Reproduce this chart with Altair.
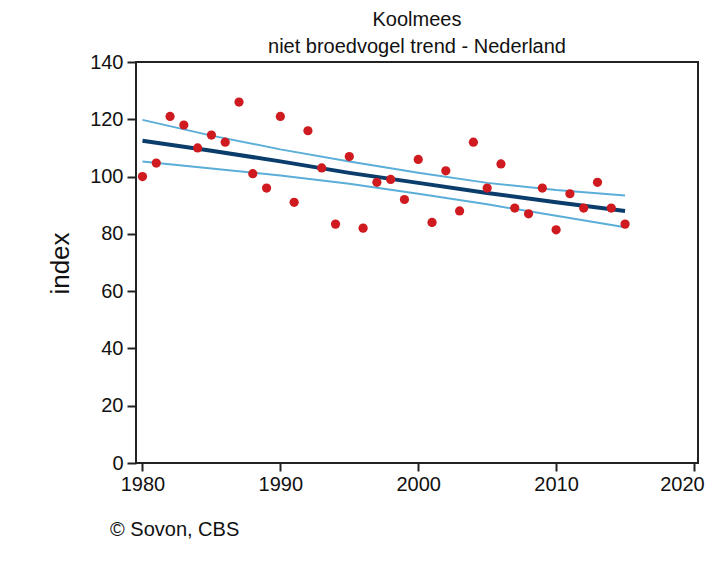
import altair as alt
import pandas as pd

# Observed index values (Koolmees, niet broedvogel)
years = list(range(1980, 2016))
index_values = [100, 104.7, 121, 118, 110, 114.5, 112, 126, 101, 96,
                121, 91, 116, 103, 83.4, 107, 82, 98, 99, 92,
                106, 84, 102, 88, 112, 96, 104.4, 89, 87, 96,
                81.4, 94, 89, 98, 89, 83.4]

# Trend line and confidence band (read at 5-year steps)
trend_years = [1980, 1985, 1990, 1995, 2000, 2005, 2010, 2015]
trend_mid = [112.5, 109.0, 105.3, 101.3, 97.8, 94.3, 91.0, 88.0]
trend_upper = [119.8, 114.3, 109.5, 105.3, 101.3, 97.8, 95.3, 93.4]
trend_lower = [105.3, 102.8, 100.4, 97.5, 94.0, 90.3, 86.3, 82.3]

x_ticks = [1980, 1990, 2000, 2010, 2020]
y_ticks = [0, 20, 40, 60, 80, 100, 120, 140]

FONT = "Liberation Sans"

pts = pd.DataFrame({"year": years, "index": index_values})
tr = pd.DataFrame({"year": trend_years, "mid": trend_mid,
                   "upper": trend_upper, "lower": trend_lower})

xscale = alt.Scale(domain=[1979.53, 2020.29], nice=False, zero=False)
yscale = alt.Scale(domain=[0, 140], nice=False)

xaxis = alt.Axis(values=x_ticks, format="d", title=None, grid=False, domain=False,
                 tickSize=8, tickColor="#222222", tickWidth=2,
                 labelFontSize=20, labelFont=FONT, labelColor="#111111",
                 labelPadding=3, labelOverlap=False, labelBound=False, labelFlush=False,
                 labelOffset={"condition": {"test": "datum.value == 2020", "value": -12},
                              "value": 0})
yaxis = alt.Axis(values=y_ticks, title="index", grid=False, domain=False,
                 tickSize=9, tickColor="#222222", tickWidth=2,
                 labelFontSize=20, labelFont=FONT, labelColor="#111111",
                 labelPadding=4,
                 titleFont=FONT, titleFontSize=26, titleFontWeight="normal",
                 titleColor="#111111", titleX=-76, titleY=201, titleAngle=270,
                 titleAlign="center", titleBaseline="middle")

base_tr = alt.Chart(tr)

upper = base_tr.mark_line(color="#5AAED8", strokeWidth=2).encode(
    x=alt.X("year:Q", scale=xscale, axis=xaxis),
    y=alt.Y("upper:Q", scale=yscale, axis=yaxis))
lower = base_tr.mark_line(color="#5AAED8", strokeWidth=2).encode(
    x=alt.X("year:Q", scale=xscale),
    y=alt.Y("lower:Q", scale=yscale))
mid = base_tr.mark_line(color="#0A3D6B", strokeWidth=4).encode(
    x=alt.X("year:Q", scale=xscale),
    y=alt.Y("mid:Q", scale=yscale))

points = alt.Chart(pts).mark_circle(color="#CF1A1F", size=85, opacity=1).encode(
    x=alt.X("year:Q", scale=xscale),
    y=alt.Y("index:Q", scale=yscale))

credit = alt.Chart(pd.DataFrame({"t": ["© Sovon, CBS"]})).mark_text(
    align="left", baseline="middle", fontSize=20, font=FONT, color="#111111"
).encode(text="t:N", x=alt.value(-26), y=alt.value(468))

chart = alt.layer(upper, lower, mid, points, credit).properties(
    width=562, height=401,
    autosize=alt.AutoSizeParams(type="none"),
    padding={"left": 128, "top": 54, "right": 8, "bottom": 90},
    background="white",
    title=alt.TitleParams(
        text=["Koolmees", "niet broedvogel trend - Nederland"],
        font=FONT, fontSize=20, fontWeight="normal", color="#111111",
        anchor="middle", lineHeight=27, offset=-5),
).configure_view(stroke="#222222", strokeWidth=2, fill="white")

chart.save("out.html", embed_options={"renderer": "svg", "actions": False})
